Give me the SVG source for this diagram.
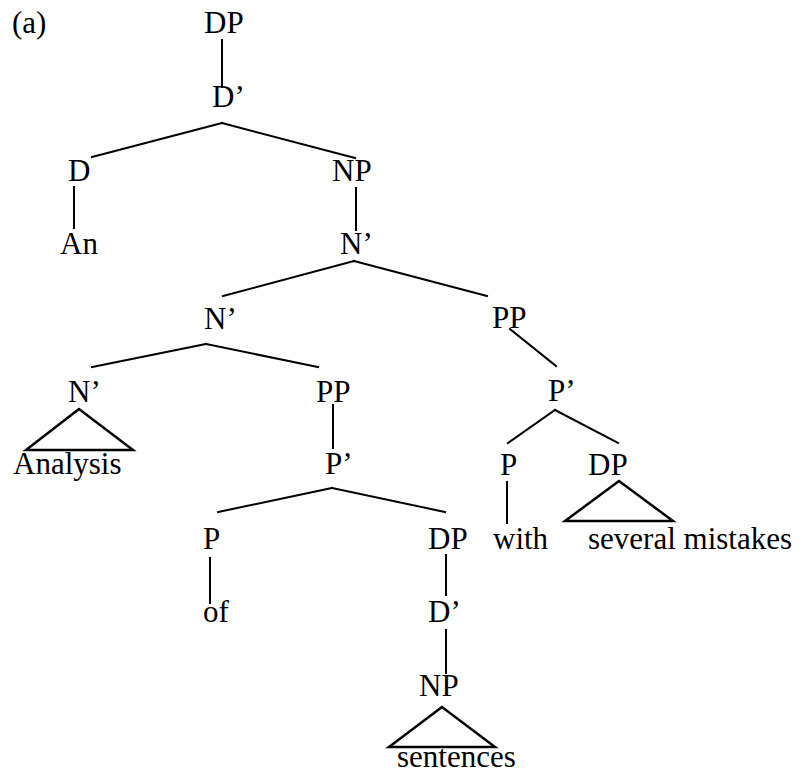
<svg xmlns="http://www.w3.org/2000/svg" width="801" height="774" viewBox="0 0 801 774">
  <style>
    text { font-family: "Liberation Serif", "Times New Roman", serif; font-size: 31px; fill: #000; }
    .edge { stroke: #000; stroke-width: 2; fill: none; stroke-linecap: square; }
    .tri { stroke: #000; stroke-width: 2.5; fill: none; stroke-linejoin: miter; }
  </style>
  <rect width="801" height="774" fill="#fff"/>

  <text x="12" y="33">(a)</text>

  <!-- connectors -->
  <g id="edges">
    <line class="edge" x1="222" y1="40" x2="222" y2="87"/>
    <line class="edge" x1="222" y1="123" x2="92" y2="157"/>
    <line class="edge" x1="222" y1="123" x2="355" y2="158"/>
    <line class="edge" x1="74" y1="187" x2="74" y2="228"/>
    <line class="edge" x1="356" y1="188" x2="356" y2="230"/>
    <line class="edge" x1="354" y1="261" x2="223" y2="296"/>
    <line class="edge" x1="354" y1="261" x2="487" y2="296"/>
    <line class="edge" x1="206" y1="344" x2="92" y2="367"/>
    <line class="edge" x1="206" y1="344" x2="318" y2="367"/>
    <line class="edge" x1="333" y1="405" x2="333" y2="448"/>
    <line class="edge" x1="332" y1="488" x2="218" y2="512"/>
    <line class="edge" x1="332" y1="488" x2="445" y2="512"/>
    <line class="edge" x1="510" y1="329" x2="556" y2="366"/>
    <line class="edge" x1="555" y1="410" x2="508" y2="443"/>
    <line class="edge" x1="555" y1="410" x2="618" y2="443"/>
    <line class="edge" x1="507" y1="482" x2="507" y2="523"/>
    <line class="edge" x1="210" y1="558" x2="210" y2="603"/>
    <line class="edge" x1="446" y1="555" x2="446" y2="595"/>
    <line class="edge" x1="446" y1="630" x2="446" y2="673"/>
    <polygon class="tri" points="79,409 26,450 133,450"/>
    <polygon class="tri" points="619,481 565,521 673,521"/>
    <polygon class="tri" points="442,707 389,747 495,747"/>
  </g>

  <!-- nodes -->
  <g id="dp-top"><text x="204" y="33">DP</text></g>
  <g id="dbar-top"><text x="212" y="107">D’</text></g>
  <g id="d-top"><text x="68" y="181">D</text></g>
  <g id="np-top"><text x="332" y="181">NP</text></g>
  <g id="an"><text x="60" y="254">An</text></g>
  <g id="nbar-1"><text x="340" y="254">N’</text></g>
  <g id="nbar-2"><text x="204" y="329">N’</text></g>
  <g id="pp-with"><text x="492" y="328">PP</text></g>
  <g id="nbar-3"><text x="68" y="402">N’</text></g>
  <g id="pp-of"><text x="316" y="402">PP</text></g>
  <g id="pbar-with"><text x="548" y="401">P’</text></g>
  <g id="analysis"><text x="13" y="474">Analysis</text></g>
  <g id="pbar-of"><text x="325" y="474">P’</text></g>
  <g id="p-with"><text x="500" y="475">P</text></g>
  <g id="dp-mistakes"><text x="588" y="475">DP</text></g>
  <g id="p-of"><text x="203" y="549">P</text></g>
  <g id="dp-sentences"><text x="428" y="549">DP</text></g>
  <g id="with"><text x="493" y="549">with</text></g>
  <g id="several-mistakes"><text x="588" y="549">several mistakes</text></g>
  <g id="of"><text x="203" y="622">of</text></g>
  <g id="dbar-sentences"><text x="428" y="622">D’</text></g>
  <g id="np-sentences"><text x="419" y="696">NP</text></g>
  <g id="sentences"><text x="397" y="767">sentences</text></g>
</svg>
